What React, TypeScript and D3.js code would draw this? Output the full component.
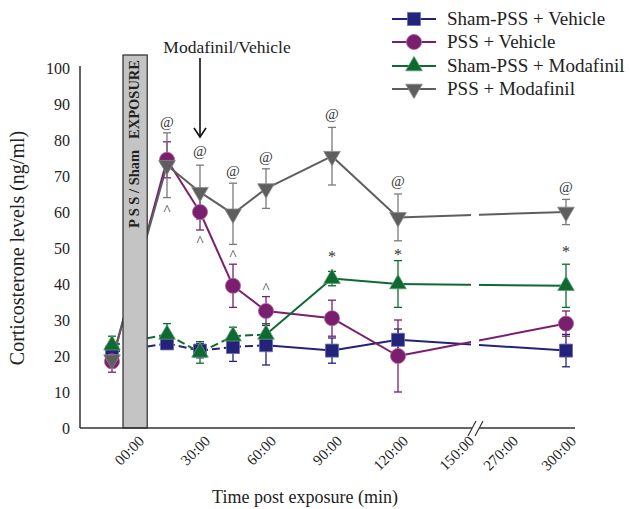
import React, { useEffect, useRef } from 'react';
import * as d3 from 'd3';

// sample times (min); -10 is the pre-exposure baseline
const times = [-10, 15, 30, 45, 60, 90, 120, 300];

const shamVehicle = [21, 23.5, 21.5, 22.5, 23, 21.5, 24.5, 21.5];
const shamVehicleErr = [2, 1.5, 2, 4, 5.5, 3.5, 3, 4.5];

const pssVehicle = [18.5, 74.5, 60, 39.5, 32.5, 30.5, 20, 29];
const pssVehicleErr = [3, 5, 5, 6, 4, 5, 10, 3.5];

const shamModafinil = [23, 26, 21, 25.5, 26, 41.5, 40, 39.5];
const shamModafinilErr = [2.5, 3, 3, 2.5, 3, 2, 6.5, 6];

const pssModafinil = [19, 73, 65.5, 59.5, 66.5, 75.5, 58.5, 60];
const pssModafinilErr = [2, 9, 7.5, 8.5, 5.5, 8, 6.5, 3.5];

const xTicks = [0, 30, 60, 90, 120, 150, 270, 300];
const xTickLabels = ['00:00', '30:00', '60:00', '90:00', '120:00', '150:00', '270:00', '300:00'];
const yTicks = [0, 10, 20, 30, 40, 50, 60, 70, 80, 90, 100];

// significance marks: [time, value where the glyph sits]
const atMarks = [[15, 84.7], [30, 76.7], [45, 71], [60, 75], [90, 87], [120, 68.3], [300, 66.7]];
const caretMarks = [[15, 61.4], [30, 52.8], [45, 48.9], [60, 39.7]];
const starMarks = [[90, 48], [120, 48.6], [300, 49.4]];

const series = [
  { name: 'Sham-PSS + Vehicle', values: shamVehicle, err: shamVehicleErr, color: '#23237a', edge: '#6b6bb5', errColor: '#23237a', marker: 'square', dashTo: 4 },
  { name: 'PSS + Vehicle', values: pssVehicle, err: pssVehicleErr, color: '#7a1f6e', edge: '#b066a6', errColor: '#7a1f6e', marker: 'circle', dashTo: 0 },
  { name: 'Sham-PSS + Modafinil', values: shamModafinil, err: shamModafinilErr, color: '#0e6a30', edge: '#5aa06e', errColor: '#0e6a30', marker: 'triangle', dashTo: 4 },
  { name: 'PSS + Modafinil', values: pssModafinil, err: pssModafinilErr, color: '#5e5e5e', edge: '#8a8a8a', errColor: '#7a7a7a', marker: 'down', dashTo: 0 }
];

const font = "'Liberation Serif', 'Times New Roman', serif";

const symbolPath = kind => {
  if (kind === 'square') return d3.symbol().type(d3.symbolSquare).size(170)();
  if (kind === 'circle') return d3.symbol().type(d3.symbolCircle).size(180)();
  return d3.symbol().type(d3.symbolTriangle).size(120)();
};

const App = () => {
  const container = useRef(null);
  const width = 630;
  const height = 509;

  useEffect(() => {
    const svg = d3.select(container.current);
    svg.selectAll('*').remove();

    const xScale = d3.scaleLinear().domain([0, 150, 270, 300]).range([134, 464, 508, 566]);
    const yScale = d3.scaleLinear().domain([0, 100]).range([428, 68]);

    const plotLeft = 80;
    const plotRight = 575;
    const baseY = yScale(0);

    /* LINES */
    const linesg = svg.append('g').attr('class', 'linesg');
    series.forEach(s => {
      for (let i = 0; i < times.length - 1; i++) {
        linesg
          .append('line')
          .attr('x1', xScale(times[i]))
          .attr('y1', yScale(s.values[i]))
          .attr('x2', xScale(times[i + 1]))
          .attr('y2', yScale(s.values[i + 1]))
          .style('stroke', s.color)
          .style('stroke-width', 2)
          .style('stroke-dasharray', i < s.dashTo ? '8,4' : null);
      }
    });

    // axis break gap through the lines
    svg
      .append('rect')
      .attr('x', 471)
      .attr('y', 60)
      .attr('width', 8)
      .attr('height', baseY - 62)
      .style('fill', '#fff');

    /* EXPOSURE BAR */
    const barX0 = xScale(-5);
    const barX1 = xScale(6);
    svg
      .append('rect')
      .attr('x', barX0)
      .attr('y', 55)
      .attr('width', barX1 - barX0)
      .attr('height', baseY - 55)
      .style('fill', '#c4c4c4')
      .style('stroke', '#2a2a2a')
      .style('stroke-width', 1.2);
    svg
      .append('text')
      .attr('transform', `translate(${barX1 - 8},144)rotate(-90)`)
      .attr('text-anchor', 'middle')
      .attr('xml:space', 'preserve')
      .style('white-space', 'pre')
      .style('font-family', font)
      .style('font-weight', 'bold')
      .style('font-size', '14.5px')
      .style('fill', '#222')
      .text('P S S / Sham   EXPOSURE');

    /* ERROR BARS */
    const errg = svg.append('g').attr('class', 'errg');
    series.forEach(s => {
      times.forEach((t, i) => {
        const x = xScale(t);
        const yt = yScale(s.values[i] + s.err[i]);
        const yb = yScale(s.values[i] - s.err[i]);
        const g = errg.append('g').style('stroke', s.errColor).style('stroke-width', 1.3);
        g.append('line').attr('x1', x).attr('x2', x).attr('y1', yt).attr('y2', yb);
        g.append('line').attr('x1', x - 4).attr('x2', x + 4).attr('y1', yt).attr('y2', yt);
        g.append('line').attr('x1', x - 4).attr('x2', x + 4).attr('y1', yb).attr('y2', yb);
      });
    });

    /* MARKERS */
    const markg = svg.append('g').attr('class', 'markg');
    series.forEach(s => {
      markg
        .selectAll(null)
        .data(times)
        .join('path')
        .attr('d', symbolPath(s.marker))
        .attr('transform', (t, i) => `translate(${xScale(t)},${yScale(s.values[i])})${s.marker === 'down' ? 'rotate(180)' : ''}`)
        .style('fill', s.color)
        .style('stroke', s.edge)
        .style('stroke-width', 0.8);
    });

    /* SIGNIFICANCE MARKS */
    const marks = [
      { list: atMarks, glyph: '@', dy: 4, size: 15 },
      { list: caretMarks, glyph: '^', dy: 8, size: 15 },
      { list: starMarks, glyph: '*', dy: 7, size: 16 }
    ];
    marks.forEach(m => {
      svg
        .append('g')
        .selectAll('text')
        .data(m.list)
        .join('text')
        .attr('x', d => xScale(d[0]))
        .attr('y', d => yScale(d[1]) + m.dy)
        .attr('text-anchor', 'middle')
        .style('font-family', font)
        .style('font-size', m.size + 'px')
        .style('fill', '#333')
        .text(m.glyph);
    });

    /* AXES */
    const axisg = svg.append('g').style('stroke', '#333').style('stroke-width', 1.5);
    axisg.append('line').attr('x1', plotLeft).attr('x2', plotLeft).attr('y1', 66).attr('y2', baseY);
    axisg.append('line').attr('x1', plotLeft).attr('x2', 472).attr('y1', baseY).attr('y2', baseY);
    axisg.append('line').attr('x1', 479).attr('x2', plotRight).attr('y1', baseY).attr('y2', baseY);
    axisg.append('line').attr('x1', 468).attr('y1', 436).attr('x2', 476).attr('y2', 421).style('stroke-width', 1.2);
    axisg.append('line').attr('x1', 475).attr('y1', 436).attr('x2', 483).attr('y2', 421).style('stroke-width', 1.2);

    svg
      .append('g')
      .selectAll('text')
      .data(yTicks)
      .join('text')
      .attr('x', 70)
      .attr('y', d => yScale(d))
      .attr('dy', '0.35em')
      .attr('text-anchor', 'end')
      .style('font-family', font)
      .style('font-size', '16px')
      .style('fill', '#222')
      .text(d => d);

    svg
      .append('g')
      .selectAll('text')
      .data(xTicks)
      .join('text')
      .attr('transform', d => `translate(${xScale(d) + 11},442)rotate(-45)`)
      .attr('text-anchor', 'end')
      .style('font-family', font)
      .style('font-size', '15px')
      .style('fill', '#222')
      .text((d, i) => xTickLabels[i]);

    /* LABELS */
    svg
      .append('text')
      .attr('transform', `translate(24,248)rotate(-90)`)
      .attr('text-anchor', 'middle')
      .style('font-family', font)
      .style('font-size', '20px')
      .style('fill', '#222')
      .text('Corticosterone levels (ng/ml)');

    svg
      .append('text')
      .attr('x', 305)
      .attr('y', 503)
      .attr('text-anchor', 'middle')
      .style('font-family', font)
      .style('font-size', '18px')
      .style('fill', '#222')
      .text('Time post exposure (min)');

    /* INJECTION ARROW */
    const ax = xScale(30);
    svg
      .append('text')
      .attr('x', 227)
      .attr('y', 53)
      .attr('text-anchor', 'middle')
      .style('font-family', font)
      .style('font-size', '17.5px')
      .style('fill', '#222')
      .text('Modafinil/Vehicle');
    const arrowg = svg.append('g').style('stroke', '#111').style('stroke-width', 1.6).style('fill', 'none');
    arrowg.append('line').attr('x1', ax).attr('x2', ax).attr('y1', 58).attr('y2', 137);
    arrowg.append('path').attr('d', `M${ax - 6},${128}L${ax},${137}L${ax + 6},${128}`);

    /* LEGEND */
    const legendY = [19, 42, 66, 89];
    const legendg = svg.append('g').attr('class', 'legendg');
    series.forEach((s, i) => {
      const g = legendg.append('g').attr('transform', `translate(0,${legendY[i]})`);
      g.append('line').attr('x1', 392).attr('x2', 436).attr('y1', 0).attr('y2', 0).style('stroke', s.color).style('stroke-width', 2);
      g.append('path')
        .attr('d', symbolPath(s.marker))
        .attr('transform', `translate(414,0)${s.marker === 'down' ? 'rotate(180)' : ''}`)
        .style('fill', s.color)
        .style('stroke', s.edge)
        .style('stroke-width', 0.8);
      g.append('text')
        .attr('x', 447)
        .attr('y', 6)
        .style('font-family', font)
        .style('font-size', '19px')
        .style('fill', '#222')
        .text(s.name);
    });
  }, []);

  return (
    <svg
      ref={container}
      width={width}
      height={height}
      style={{ position: 'absolute', left: 0, top: 0, background: '#fff', display: 'block' }}
    ></svg>
  );
};

export default App;
